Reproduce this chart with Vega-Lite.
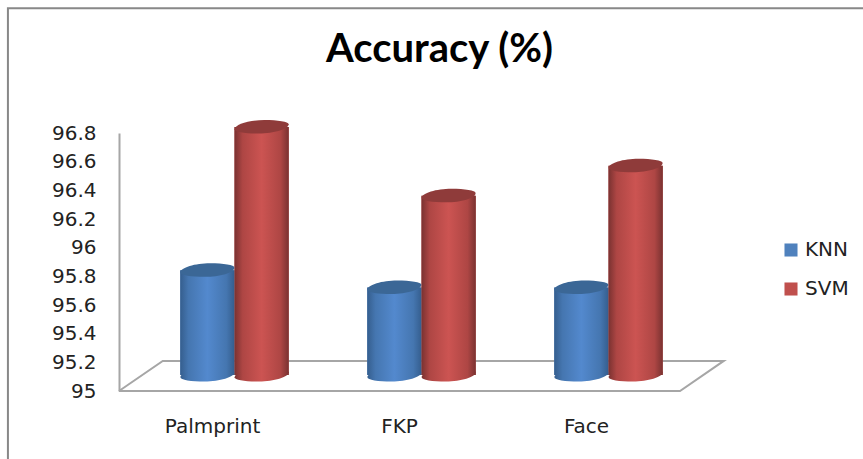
{"$schema":"https://vega.github.io/schema/vega-lite/v6.json","width":561,"height":258,"autosize":{"type":"none"},"padding":{"left":119,"top":133,"right":183,"bottom":68},"background":"white","config":{"view":{"stroke":null},"axis":{"labelOverlap":false,"labelSeparation":0}},"title":{"text":"Accuracy (%)","font":"Lato","fontSize":40,"fontWeight":"bold","color":"#000","anchor":"middle","frame":"group","dx":40,"offset":-66},"datasets":{"bars":[{"category":"Palmprint","model":"KNN","accuracy":95.73},{"category":"Palmprint","model":"SVM","accuracy":96.73},{"category":"FKP","model":"KNN","accuracy":95.61},{"category":"FKP","model":"SVM","accuracy":96.25},{"category":"Face","model":"KNN","accuracy":95.61},{"category":"Face","model":"SVM","accuracy":96.46}],"frame":[{"fx":0,"fy":95,"o":1},{"fx":1,"fy":95,"o":2},{"fx":1.078,"fy":95.21,"o":3},{"fx":0.078,"fy":95.21,"o":4},{"fx":0,"fy":95,"o":5}],"edge":[{"fx":-0.198,"fy":94.52,"o":1},{"fx":-0.198,"fy":97.67,"o":2},{"fx":1.33,"fy":97.67,"o":3}]},"layer":[{"data":{"name":"frame"},"mark":{"type":"line","color":"#a6a6a6","strokeWidth":2,"clip":false},"encoding":{"x":{"field":"fx","type":"quantitative","scale":{"domain":[0,1]},"axis":null},"y":{"field":"fy","type":"quantitative","scale":{"domain":[95,96.8]},"axis":{"title":null,"values":[95,95.2,95.4,95.6,95.8,96,96.2,96.4,96.6,96.8],"tickCount":10,"format":"~f","grid":false,"ticks":false,"domain":true,"domainColor":"#a6a6a6","domainWidth":2,"labelFont":"DejaVu Sans","labelFontSize":20,"labelColor":"#222","labelPadding":23,"labelOverlap":false,"labelBound":false}},"order":{"field":"o"}}},{"data":{"name":"edge"},"mark":{"type":"line","color":"#888888","strokeWidth":2,"clip":false},"encoding":{"x":{"field":"fx","type":"quantitative","scale":{"domain":[0,1]},"axis":null},"y":{"field":"fy","type":"quantitative","scale":{"domain":[95,96.8]}},"order":{"field":"o"}}},{"data":{"name":"bars"},"layer":[{"mark":{"type":"bar","yOffset":-16,"y2Offset":-16},"encoding":{"color":{"field":"model","type":"nominal","scale":{"domain":["KNN","SVM"],"range":["#4F81BD","#C0504D"]},"legend":{"orient":"none","legendX":662,"legendY":107,"title":null,"symbolType":"square","symbolSize":170,"symbolStrokeWidth":0,"labelFont":"DejaVu Sans","labelFontSize":20,"labelColor":"#222","rowPadding":19,"labelOffset":4}}}},{"transform":[{"filter":"datum.model==='KNN'"}],"mark":{"type":"bar","yOffset":-16,"y2Offset":-16,"fill":{"gradient":"linear","x1":0,"x2":1,"y1":0,"y2":0,"stops":[{"offset":0,"color":"#355E8E"},{"offset":0.15,"color":"#4576B0"},{"offset":0.5,"color":"#5389CE"},{"offset":0.85,"color":"#4576B0"},{"offset":1,"color":"#355E8E"}]}}},{"transform":[{"filter":"datum.model==='SVM'"}],"mark":{"type":"bar","yOffset":-16,"y2Offset":-16,"fill":{"gradient":"linear","x1":0,"x2":1,"y1":0,"y2":0,"stops":[{"offset":0,"color":"#7A3231"},{"offset":0.15,"color":"#AE4644"},{"offset":0.5,"color":"#CC5452"},{"offset":0.85,"color":"#AE4644"},{"offset":1,"color":"#7A3231"}]}}},{"transform":[{"filter":"datum.model==='KNN'"}],"mark":{"type":"point","filled":true,"opacity":1,"yOffset":-16,"size":2916,"shape":"M-1,0.08C-1,-0.1 -0.45,-0.26 0.1,-0.26C0.6,-0.26 1,-0.2 1,-0.1C1,0.08 0.45,0.24 -0.1,0.24C-0.6,0.24 -1,0.18 -1,0.08Z","fill":{"gradient":"linear","x1":0,"x2":1,"y1":0,"y2":0,"stops":[{"offset":0,"color":"#355E8E"},{"offset":0.15,"color":"#4576B0"},{"offset":0.5,"color":"#5389CE"},{"offset":0.85,"color":"#4576B0"},{"offset":1,"color":"#355E8E"}]}},"encoding":{"y":{"datum":95},"y2":null}},{"transform":[{"filter":"datum.model==='SVM'"}],"mark":{"type":"point","filled":true,"opacity":1,"yOffset":-16,"size":2916,"shape":"M-1,0.08C-1,-0.1 -0.45,-0.26 0.1,-0.26C0.6,-0.26 1,-0.2 1,-0.1C1,0.08 0.45,0.24 -0.1,0.24C-0.6,0.24 -1,0.18 -1,0.08Z","fill":{"gradient":"linear","x1":0,"x2":1,"y1":0,"y2":0,"stops":[{"offset":0,"color":"#7A3231"},{"offset":0.15,"color":"#AE4644"},{"offset":0.5,"color":"#CC5452"},{"offset":0.85,"color":"#AE4644"},{"offset":1,"color":"#7A3231"}]}},"encoding":{"y":{"datum":95},"y2":null}},{"transform":[{"filter":"datum.model==='KNN'"}],"mark":{"type":"point","filled":true,"opacity":1,"yOffset":-16,"fill":"#3B6796","size":2916,"shape":"M-1,0.08C-1,-0.1 -0.45,-0.26 0.1,-0.26C0.6,-0.26 1,-0.2 1,-0.1C1,0.08 0.45,0.24 -0.1,0.24C-0.6,0.24 -1,0.18 -1,0.08Z"}},{"transform":[{"filter":"datum.model==='SVM'"}],"mark":{"type":"point","filled":true,"opacity":1,"yOffset":-16,"fill":"#8F3B3A","size":2916,"shape":"M-1,0.08C-1,-0.1 -0.45,-0.26 0.1,-0.26C0.6,-0.26 1,-0.2 1,-0.1C1,0.08 0.45,0.24 -0.1,0.24C-0.6,0.24 -1,0.18 -1,0.08Z"}}],"encoding":{"x":{"field":"category","type":"nominal","sort":["Palmprint","FKP","Face"],"scale":{"paddingInner":0.42,"paddingOuter":0.21,"range":[22,583]},"axis":{"title":null,"domain":false,"ticks":false,"labelAngle":0,"labelFont":"DejaVu Sans","labelFontSize":20,"labelColor":"#222","labelPadding":35,"labelOffset":-22,"labelBaseline":"middle"}},"xOffset":{"field":"model","type":"nominal","sort":["KNN","SVM"],"scale":{"paddingInner":0}},"y":{"field":"accuracy","type":"quantitative","scale":{"domain":[95,96.8],"nice":false}},"y2":{"datum":95}}}],"resolve":{"scale":{"x":"independent"}}}
